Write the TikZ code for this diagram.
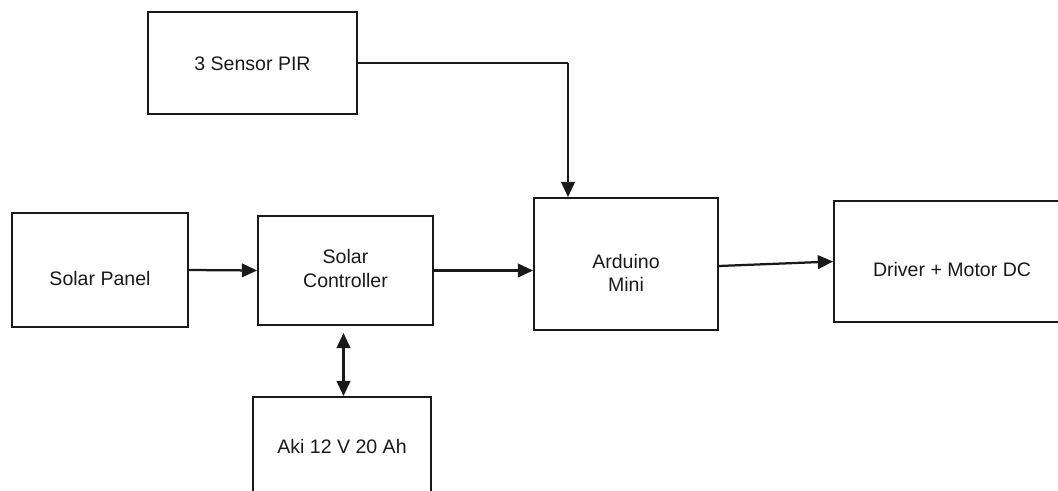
\documentclass[tikz,border=0pt]{standalone}
\usepackage{fontspec}
\setmainfont{Liberation Sans}
\usetikzlibrary{positioning,arrows.meta,calc}
\tikzset{
  blk/.style={draw=black!90,line width=1.3pt,inner sep=0pt},
  lbl/.style={font=\fontsize{13.9}{16.5}\selectfont,align=center,text=black!90,inner sep=0pt},
  arr/.style={-{Triangle[length=3.8mm,width=3.4mm]},line width=1.6pt,black!90},
  dblarr/.style={{Triangle[length=3.8mm,width=3.4mm]}-{Triangle[length=3.8mm,width=3.4mm]},line width=1.6pt,black!90},
  wire/.style={line width=1.1pt,black!90},
}

\begin{document}
\begin{tikzpicture}[x=0.025cm,y=-0.025cm]
  \useasboundingbox (0,0) rectangle (1058,491);
  \clip (0,0) rectangle (1058,491);
  % blocks
  \node[blk,minimum width=5.225cm,minimum height=2.55cm] (pir) at (252.5,63) {};
  \node[blk,minimum width=4.4cm,minimum height=2.85cm] (pan) at (100,270) {};
  \node[blk,minimum width=4.375cm,minimum height=2.725cm] (ctl) at (345.5,270.5) {};
  \node[blk,minimum width=4.6cm,minimum height=3.3cm] (ard) at (626,264) {};
  \node[blk,minimum width=5.9cm,minimum height=3.025cm] (drv) at (952,261.5) {};
  \node[blk,minimum width=4.45cm,minimum height=2.5cm] (aki) at (342,447) {};
  % block texts
  \node[lbl] (pirtxt) at ($(pir.center)+(0,1)$) {3 Sensor PIR};
  \node[lbl] (pantxt) at ($(pan.center)+(0,9)$) {Solar Panel};
  \node[lbl] (ctltxt) at ($(ctl.center)+(0,-2)$) {Solar\\Controller};
  \node[lbl] (ardtxt) at ($(ard.center)+(0,9)$) {Arduino\\Mini};
  \node[lbl] (drvtxt) at ($(drv.center)+(0,8)$) {Driver + Motor DC};
  \node[lbl] (akitxt) at (aki.center) {Aki 12 V 20 Ah};
  % connectors
  \coordinate (bend) at (568,63);
  \draw[wire] (pir.east) -- (bend);
  \draw[arr] (bend) -- (bend |- ard.north);
  \draw[arr] (pan.east) -- (ctl.west);
  \draw[arr] (ctl.east) -- (ctl.east -| ard.west);
  \draw[arr] ($(ard.east)+(0,2)$) -- (drv.west);
  \coordinate (bat) at ($(ctl.south)+(-2,7)$);
  \draw[dblarr] (bat) -- (bat |- aki.north);
\end{tikzpicture}
\end{document}
